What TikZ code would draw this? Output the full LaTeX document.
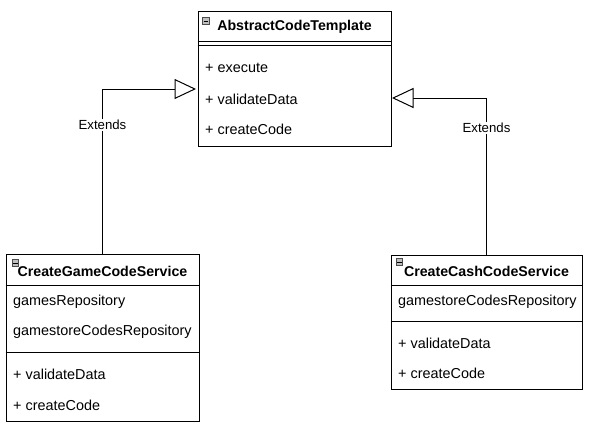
\documentclass[tikz,border=0pt]{standalone}
\usepackage{fontspec}
\setmainfont{Liberation Sans}
\usetikzlibrary{arrows.meta,calc}

\tikzset{
  classbox/.style={draw, line width=1pt, inner sep=0pt, fill=white},
  classname/.style={font=\fontsize{14.2}{17}\selectfont\bfseries, inner sep=0pt},
  member/.style={font=\fontsize{14.4}{17}\selectfont, inner sep=0pt, anchor=west},
  sepline/.style={line width=1pt},
  foldicon/.style={draw=black!70, fill=black!25, line width=0.7pt, minimum size=6.5pt, inner sep=0pt},
  inherit/.style={line width=1pt, -{Triangle[open, length=21.5pt, width=20pt, fill=white]}},
  extlabel/.style={font=\fontsize{13.2}{15}\selectfont, fill=white, inner sep=1pt}
}

\newcommand{\foldmark}[2]{%
  \node[foldicon] (#1) at (#2) {};
  \draw[line width=0.9pt] ($(#1.west)+(1.2,0)$) -- ($(#1.east)+(-1.2,0)$);
}

\begin{document}
\begin{tikzpicture}[x=1pt, y=-1pt]
  \useasboundingbox (0,0) rectangle (591,428);

  % abstract template
  \node[classbox, minimum width=193, minimum height=134] (abs) at (294.5,79) {};
  \node[classname] (absName) at (294.5,27) {AbstractCodeTemplate};
  \draw[sepline] ($(abs.north west)+(0,30)$) -- ($(abs.north east)+(0,30)$);
  \draw[sepline] ($(abs.north west)+(0,34)$) -- ($(abs.north east)+(0,34)$);
  \node[member] (absExec) at (205,68) {+ execute};
  \node[member] (absValid) at (205,99) {+ validateData};
  \node[member] (absCreate) at (205,129) {+ createCode};
  \foldmark{absFold}{206,21}

  % game code service
  \node[classbox, minimum width=193, minimum height=167] (game) at (102.5,337.5) {};
  \node[classname] (gameName) at (102.5,271) {CreateGameCodeService};
  \draw[sepline] ($(game.north west)+(0,32)$) -- ($(game.north east)+(0,32)$);
  \draw[sepline] ($(game.north west)+(0,99)$) -- ($(game.north east)+(0,99)$);
  \node[member] (gameRepo) at (13,302) {gamesRepository};
  \node[member] (gameStore) at (13,332) {gamestoreCodesRepository};
  \node[member] (gameValid) at (13,374) {+ validateData};
  \node[member] (gameCreate) at (13,405) {+ createCode};
  \foldmark{gameFold}{15.5,263}

  % cash code service
  \node[classbox, minimum width=191, minimum height=134] (cash) at (486.5,322) {};
  \node[classname] (cashName) at (486.5,271) {CreateCashCodeService};
  \draw[sepline] ($(cash.north west)+(0,31)$) -- ($(cash.north east)+(0,31)$);
  \draw[sepline] ($(cash.north west)+(0,67)$) -- ($(cash.north east)+(0,67)$);
  \node[member] (cashStore) at (398,302) {gamestoreCodesRepository};
  \node[member] (cashValid) at (398,343) {+ validateData};
  \node[member] (cashCreate) at (398,373) {+ createCode};
  \foldmark{cashFold}{399.5,262}

  % generalisation
  \coordinate (absL) at (196,89);
  \coordinate (absR) at (392,98);
  \draw[inherit] (game.north) |- node[extlabel, pos=0.39] {Extends} (absL);
  \draw[inherit] (cash.north) |- node[extlabel, pos=0.405] {Extends} (absR);
\end{tikzpicture}
\end{document}
